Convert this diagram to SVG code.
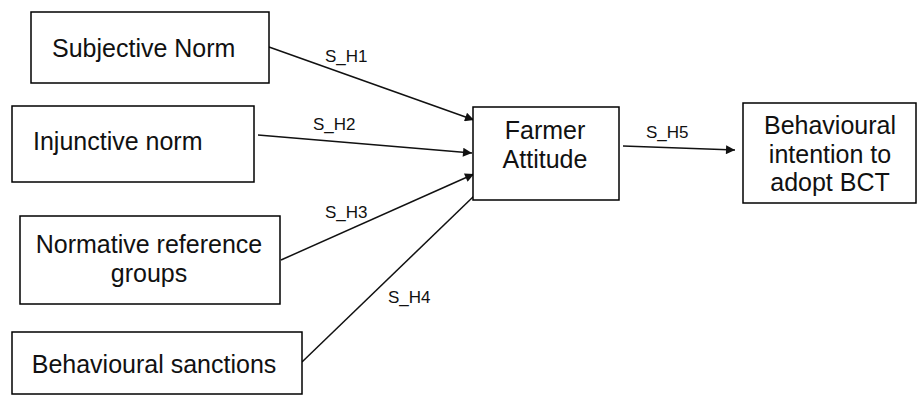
<svg xmlns="http://www.w3.org/2000/svg" width="918" height="396" viewBox="0 0 918 396">
<style>
.box{fill:#fff;stroke:#000;stroke-width:1.5}
.t{font-family:"Liberation Sans",Arial,sans-serif;font-size:25px;fill:#111}
.c{text-anchor:middle}
.lbl{font-family:"Liberation Sans",Arial,sans-serif;font-size:17px;fill:#111}
.edge{stroke:#111;stroke-width:1.5;fill:none}
</style>
<defs>
<marker id="ah" viewBox="0 0 10 10" refX="10" refY="5" markerWidth="11" markerHeight="9" orient="auto" markerUnits="userSpaceOnUse">
<path d="M0,0 L10,5 L0,10 z" fill="#111"/>
</marker>
</defs>
<rect width="918" height="396" fill="#fff"/>
<g id="connectors">
<line class="edge" x1="269" y1="47" x2="474" y2="120" marker-end="url(#ah)"/>
<line class="edge" x1="258" y1="135" x2="472" y2="153" marker-end="url(#ah)"/>
<line class="edge" x1="281" y1="260" x2="474" y2="174" marker-end="url(#ah)"/>
<line class="edge" x1="302" y1="362" x2="474" y2="196"/>
<line class="edge" x1="623" y1="146" x2="735" y2="150" marker-end="url(#ah)"/>
<text class="lbl" x="325" y="62">S_H1</text>
<text class="lbl" x="313" y="130">S_H2</text>
<text class="lbl" x="325" y="218">S_H3</text>
<text class="lbl" x="388" y="303">S_H4</text>
<text class="lbl" x="646" y="138">S_H5</text>
</g>
<g id="subjective-norm">
<rect class="box" x="31" y="12" width="238" height="71"/>
<text class="t" x="52" y="57">Subjective Norm</text>
</g>
<g id="injunctive-norm">
<rect class="box" x="12" y="106" width="242" height="76"/>
<text class="t" x="33" y="150">Injunctive norm</text>
</g>
<g id="normative-reference-groups">
<rect class="box" x="20" y="216" width="260" height="88"/>
<text class="t c" x="149" y="253">Normative reference</text>
<text class="t c" x="149" y="282">groups</text>
</g>
<g id="behavioural-sanctions">
<rect class="box" x="12" y="332" width="290" height="62"/>
<text class="t c" x="154" y="373">Behavioural sanctions</text>
</g>
<g id="farmer-attitude">
<rect class="box" x="473" y="107" width="146" height="93"/>
<text class="t c" x="545" y="139">Farmer</text>
<text class="t c" x="545" y="168">Attitude</text>
</g>
<g id="behavioural-intention">
<rect class="box" x="743" y="103" width="173" height="100"/>
<text class="t c" x="830" y="134">Behavioural</text>
<text class="t c" x="830" y="163">intention to</text>
<text class="t c" x="830" y="191">adopt BCT</text>
</g>
</svg>
